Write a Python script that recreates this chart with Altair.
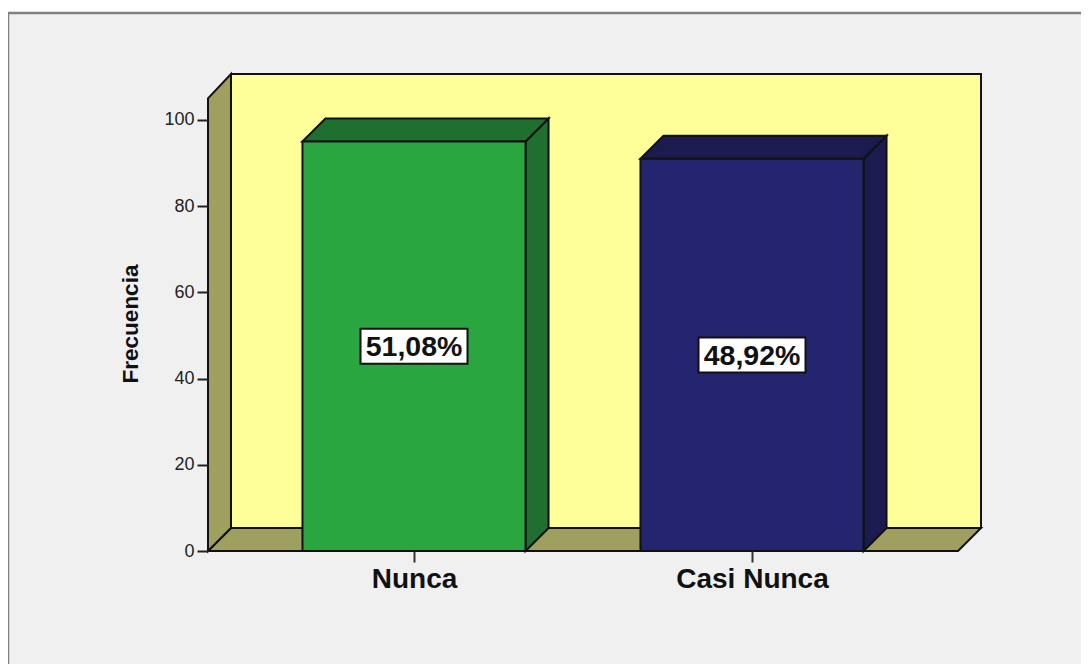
import altair as alt
import pandas as pd

# data
categories = ["Nunca", "Casi Nunca"]
positions = [1, 2]
frequencies = [95, 91]
labels = ["51,08%", "48,92%"]
front_colors = ["#2aa640", "#25256f"]
side_colors = ["#1f6f30", "#1b1b4f"]

# axis values
y_ticks = [0, 20, 40, 60, 80, 100]

# 3-D construction, in data units
X_LEFT = 0.3905
X_WALL = 2.219
DX = 0.068
DY = 5.34
Y_WALL_TOP = 110.67
HALF = 0.33
WALL = "#ffff99"
OLIVE = "#9f9f60"
BLACK = "#111111"
PLOT_W, PLOT_H = 773, 477

x_scale = alt.Scale(domain=[X_LEFT, X_LEFT + X_WALL + DX], nice=False, zero=False)
y_scale = alt.Scale(domain=[0, Y_WALL_TOP], nice=False, zero=False)

x_axis = alt.Axis(
    values=positions,
    labelExpr="datum.value == 1 ? 'Nunca' : 'Casi Nunca'",
    title=None, domain=False, grid=False, zindex=1,
    tickSize=11, tickWidth=2, tickColor="#333333",
    labelFont="Liberation Sans", labelFontSize=28, labelFontWeight="bold",
    labelColor="#111111", labelPadding=3, labelAngle=0,
)
y_axis = alt.Axis(
    values=y_ticks, title="Frecuencia", domain=False, grid=False, zindex=1,
    tickSize=11, tickWidth=2, tickColor="#222222",
    labelFont="Liberation Sans", labelFontSize=18, labelColor="#222222", labelPadding=3,
    titleFont="Liberation Sans", titleFontSize=22.5, titleFontWeight="bold",
    titleColor="#111111", titlePadding=21, titleY=249.5,
)
X = alt.X("x:Q", scale=x_scale, axis=x_axis)
Y = alt.Y("y:Q", scale=y_scale, axis=y_axis)


def poly(xs, tops, bottoms, fill):
    df = pd.DataFrame({"x": xs, "y": tops, "y2": bottoms})
    return alt.Chart(df).mark_area(fill=fill, stroke=BLACK, strokeWidth=2, opacity=1).encode(
        x=X, y=Y, y2=alt.Y2("y2:Q")
    )


frame = alt.Chart(pd.DataFrame({"a": [0]})).mark_rect(
    fill="#f0f0f0", stroke="#808080", strokeWidth=2.5
).encode(
    x=alt.value(-200), x2=alt.value(1000), y=alt.value(-61), y2=alt.value(700)
)

layers = [frame]
# back wall
layers.append(poly([X_LEFT + DX, X_LEFT + DX + X_WALL], [Y_WALL_TOP] * 2, [DY] * 2, WALL))
# floor
layers.append(poly(
    [X_LEFT, X_LEFT + DX, X_LEFT + X_WALL, X_LEFT + X_WALL + DX],
    [0, DY, DY, DY], [0, 0, 0, DY], OLIVE))
# left wall
layers.append(poly([X_LEFT, X_LEFT + DX], [105, Y_WALL_TOP], [0, DY], OLIVE))

for pos, val, fc, sc in zip(positions, frequencies, front_colors, side_colors):
    l, r = pos - HALF, pos + HALF
    layers.append(poly([r, r + DX], [val, val + DY], [0, DY], sc))
    layers.append(poly([l, l + DX, r, r + DX],
                       [val, val + DY, val + DY, val + DY],
                       [val, val, val, val + DY], sc))
    layers.append(poly([l, r], [val, val], [0, 0], fc))

df_labels = pd.DataFrame({
    "x": positions,
    "y": [v / 2 for v in frequencies],
    "label": labels,
})
layers.append(alt.Chart(df_labels).mark_rect(
    width=107, height=35, fill="white", stroke=BLACK, strokeWidth=2
).encode(x=X, y=Y))
layers.append(alt.Chart(df_labels).mark_text(
    font="Liberation Sans", fontSize=28.5, fontWeight="bold", color="#111111",
    align="center", baseline="middle", dy=1
).encode(x=X, y=Y, text="label:N"))

chart = alt.layer(*layers).properties(
    width=PLOT_W, height=PLOT_H,
    background="white",
    padding={"left": 200, "top": 66, "right": 100, "bottom": 113},
    autosize=alt.AutoSizeParams(type="none"),
).configure_view(stroke=None)

chart.save("out.html", embed_options={"renderer": "svg", "actions": False})
